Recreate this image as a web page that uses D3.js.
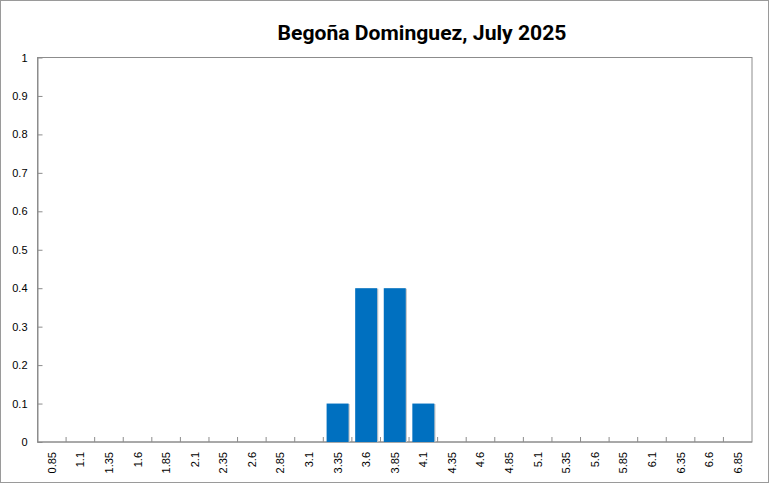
<!DOCTYPE html>
<html>
<head>
<meta charset="utf-8">
<script src="https://cdn.jsdelivr.net/npm/d3@7/dist/d3.min.js"></script>
<style>
  body { margin: 0; background: #fff; }
  text { font-family: "Liberation Sans", Arial, sans-serif; fill: #000; }
</style>
</head>
<body>
<div id="container"></div>
<script>
const title = "Begoña Dominguez, July 2025";
const categories = ["0.85", "1.1", "1.35", "1.6", "1.85", "2.1", "2.35", "2.6", "2.85", "3.1",
  "3.35", "3.6", "3.85", "4.1", "4.35", "4.6", "4.85", "5.1", "5.35", "5.6", "5.85", "6.1",
  "6.35", "6.6", "6.85"];
const values = [0, 0, 0, 0, 0, 0, 0, 0, 0, 0,
  0.1, 0.4, 0.4, 0.1, 0, 0, 0, 0, 0, 0, 0, 0, 0, 0, 0];
const yTicks = [0, 0.1, 0.2, 0.3, 0.4, 0.5, 0.6, 0.7, 0.8, 0.9, 1];

const width = 769, height = 483;
const margin = { top: 57.5, right: 17, bottom: 41, left: 37.5 };

const svg = d3.select("#container")
  .append("svg")
  .attr("width", width)
  .attr("height", height);

// outer chart border
svg.append("rect")
  .attr("x", 0.5).attr("y", 0.5)
  .attr("width", width - 1).attr("height", height - 1)
  .attr("fill", "#fff")
  .attr("stroke", "#9a9a9a");

const x = d3.scaleBand()
  .domain(categories)
  .range([margin.left, width - margin.right])
  .paddingInner(0.3 / 1.3)
  .paddingOuter(0.15 / 1.3);

const xBand = d3.scaleBand()
  .domain(categories)
  .range([margin.left, width - margin.right]);

const y = d3.scaleLinear()
  .domain([0, 1])
  .range([height - margin.bottom, margin.top]);

// title
svg.append("text")
  .attr("x", 422)
  .attr("y", 40)
  .attr("text-anchor", "middle")
  .attr("textLength", 289)
  .attr("lengthAdjust", "spacingAndGlyphs")
  .style("font-family", "Roboto, 'Liberation Sans', sans-serif")
  .style("font-weight", "bold")
  .style("font-size", "20px")
  .text(title);

// plot area border
svg.append("rect")
  .attr("x", margin.left)
  .attr("y", margin.top)
  .attr("width", width - margin.right - margin.left)
  .attr("height", height - margin.bottom - margin.top)
  .attr("fill", "none")
  .attr("stroke", "#8c8c8c");

// y axis, ticks pointing inward
const yAxis = d3.axisLeft(y)
  .tickValues(yTicks)
  .tickFormat(d => d3.format("~g")(d))
  .tickSizeInner(-5)
  .tickSizeOuter(0)
  .tickPadding(10);

const gy = svg.append("g")
  .attr("transform", `translate(${margin.left},0)`)
  .call(yAxis);
gy.select(".domain").attr("stroke", "#8c8c8c");
gy.selectAll(".tick line").attr("stroke", "#8c8c8c");
gy.selectAll(".tick text")
  .style("font-size", "11px")
  .style("font-family", "'Liberation Sans', Arial, sans-serif");

// x axis: tick marks at category boundaries, pointing up
const gx = svg.append("g")
  .attr("transform", `translate(0,${height - margin.bottom})`);
gx.append("line")
  .attr("x1", margin.left).attr("x2", width - margin.right)
  .attr("stroke", "#8c8c8c");
gx.selectAll("line.tk")
  .data(categories.slice(1))
  .join("line")
  .attr("class", "tk")
  .attr("x1", d => xBand(d)).attr("x2", d => xBand(d))
  .attr("y1", 0).attr("y2", -5)
  .attr("stroke", "#8c8c8c");
gx.selectAll("text")
  .data(categories)
  .join("text")
  .attr("transform", d => `translate(${xBand(d) + xBand.bandwidth() / 2 + 4},10) rotate(-90)`)
  .attr("text-anchor", "end")
  .style("font-size", "11px")
  .text(d => d);

// bars
const bars = svg.append("g");
bars.selectAll("rect.shadow")
  .data(values.map((v, i) => ({ c: categories[i], v })).filter(d => d.v > 0))
  .join("rect")
  .attr("class", "shadow")
  .attr("x", d => x(d.c) + 1.2)
  .attr("y", d => y(d.v) + 0.5)
  .attr("width", x.bandwidth())
  .attr("height", d => y(0) - y(d.v) - 0.5)
  .attr("fill", "#c8c8c8");
bars.selectAll("rect.bar")
  .data(values.map((v, i) => ({ c: categories[i], v })).filter(d => d.v > 0))
  .join("rect")
  .attr("class", "bar")
  .attr("x", d => x(d.c))
  .attr("y", d => y(d.v))
  .attr("width", x.bandwidth())
  .attr("height", d => y(0) - y(d.v))
  .attr("fill", "#0070c0");
</script>
</body>
</html>
